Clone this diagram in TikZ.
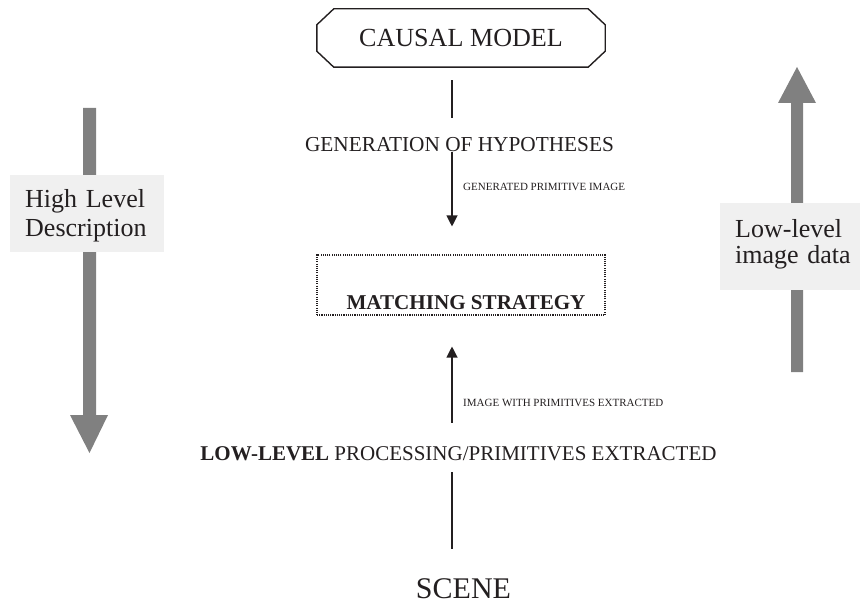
\documentclass[tikz,border=0pt]{standalone}
\usepackage{fontspec}
\setmainfont{Liberation Serif}
\usetikzlibrary{arrows.meta}
\definecolor{ink}{HTML}{231F20}
\definecolor{bandgray}{HTML}{808080}
\definecolor{tagfill}{HTML}{F0F0F0}

\begin{document}
\begin{tikzpicture}[x=1pt,y=-1pt,
  every node/.style={text=ink},
  title/.style={font=\fontsize{26.1}{31}\selectfont, inner sep=0pt, text height=17.3pt, text depth=0pt},
  stage/.style={font=\fontsize{21.3}{25}\selectfont, inner sep=0pt, text height=14.1pt, text depth=0pt},
  bstage/.style={font=\fontsize{21.1}{25}\selectfont\bfseries, inner sep=0pt, text height=14.3pt, text depth=0pt},
  scenefont/.style={font=\fontsize{30}{36}\selectfont, inner sep=0pt, text height=19.9pt, text depth=0pt},
  tiny/.style={font=\fontsize{11}{13}\selectfont, inner sep=0pt, text height=7.3pt, text depth=0pt, anchor=west},
  flow/.style={draw=ink, line width=1.2pt},
  flowarrow/.style={flow, -{Triangle[length=11pt,width=11pt]}},
  tagbox/.style={fill=tagfill, draw=none, inner sep=0pt},
  tagtext/.style={font=\fontsize{26}{29}\selectfont, align=left, inner sep=0pt, anchor=west},
  band/.style={fill=bandgray, draw=none}]

\useasboundingbox (0,0) rectangle (860,604);

% vertical spine of the processing chain
\coordinate (spine) at (452,0);

% ---- central chain ----
\node[minimum width=288pt, minimum height=58pt, inner sep=0pt] (causal) at (461,38) {};
\draw[draw=ink, line width=1.4pt]
  ([xshift=17pt]causal.north west) -- ([xshift=-17pt]causal.north east)
  -- ([yshift=-16pt]causal.north east) -- ([yshift=16pt]causal.south east)
  -- ([xshift=-17pt]causal.south east) -- ([xshift=17pt]causal.south west)
  -- ([yshift=16pt]causal.south west) -- ([yshift=-16pt]causal.north west) -- cycle;
\node[title] (causaltext) at (causal.center) {CAUSAL MODEL};

\node[stage] (gen) at (459.5,144) {GENERATION OF HYPOTHESES};
\node[tiny] (genlabel) at (463,187) {GENERATED PRIMITIVE IMAGE};

\node[draw=ink, line width=1.1pt, dash pattern=on 1.1pt off 1.1pt,
      minimum width=288pt, minimum height=60pt, inner sep=0pt] (match) at (461,285) {};
\node[bstage] (matchtext) at (466,302.5) {MATCHING STRATEGY};

\node[tiny] (imglabel) at (463,403) {IMAGE WITH PRIMITIVES EXTRACTED};
\node[stage, font=\fontsize{21}{25}\selectfont, text height=13.9pt] (low) at (458.5,454)
  {\textbf{LOW-LEVEL} PROCESSING/PRIMITIVES EXTRACTED};
\node[scenefont] (scene) at (463.5,588.5) {SCENE};

\draw[flow, shorten <=13pt, shorten >=19pt] (causal.south -| spine) -- (gen.north -| spine);
\draw[flowarrow, shorten <=1pt, shorten >=28pt] (gen.south -| spine) -- (match.north -| spine);
\draw[flowarrow, shorten <=24pt, shorten >=31pt] (low.north -| spine) -- (match.south -| spine);
\draw[flow, shorten <=11pt, shorten >=29.5pt] (low.south -| spine) -- (scene.north -| spine);

% ---- side bands ----
\fill[band] (83,108) -- (96,108) -- (96,415) -- (108,415) -- (89.5,453) -- (70,415) -- (83,415) -- cycle;
\fill[band] (791,372) -- (803,372) -- (803,103) -- (816,103) -- (797,67) -- (778,103) -- (791,103) -- cycle;

\node[tagbox, minimum width=154pt, minimum height=77pt] (high) at (87,213.5) {};
\node[tagtext, text width=135pt] (hightext) at (25,215.4) {High Level\\Description};
\node[tagbox, minimum width=140pt, minimum height=87pt] (lowdata) at (790,246.5) {};
\node[tagtext, text width=122pt, font=\fontsize{26}{26}\selectfont] (lowtext) at (735,243.9) {Low-level\\image data};

\end{tikzpicture}
\end{document}
